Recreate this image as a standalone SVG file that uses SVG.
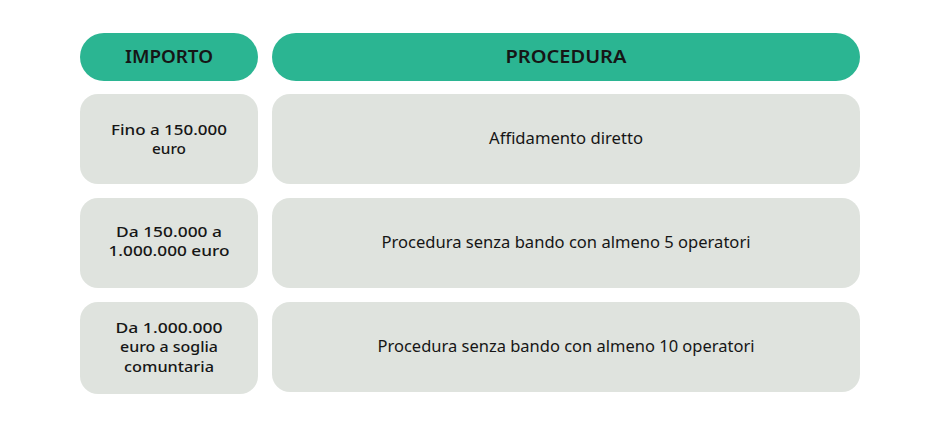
<svg xmlns="http://www.w3.org/2000/svg" width="944" height="436" viewBox="0 0 944 436">
<style>
.hd{fill:#2bb592}
.cell{fill:#dfe3de}
text{font-family:"Noto Sans","Liberation Sans",sans-serif;fill:#161616;text-anchor:middle}
.ht{font-size:18px;font-weight:600}
.lt{font-size:15px;font-weight:500}
.rt{font-size:15.5px;font-weight:400}
</style>
<rect width="944" height="436" fill="#ffffff"/>
<g id="header-importo"><rect class="hd" x="80" y="33" width="178" height="48" rx="24"/><text class="ht" x="169" y="62.5" textLength="88" lengthAdjust="spacingAndGlyphs">IMPORTO</text></g>
<g id="header-procedura"><rect class="hd" x="272" y="33" width="588" height="48" rx="24"/><text class="ht" x="566" y="62.5" textLength="121" lengthAdjust="spacingAndGlyphs">PROCEDURA</text></g>
<g id="row1-importo"><rect class="cell" x="80" y="94" width="178" height="90" rx="18"/><text class="lt" x="169" y="134.5" textLength="116" lengthAdjust="spacingAndGlyphs">Fino a 150.000</text><text class="lt" x="169" y="153.5" textLength="34" lengthAdjust="spacingAndGlyphs">euro</text></g>
<g id="row1-procedura"><rect class="cell" x="272" y="94" width="588" height="90" rx="18"/><text class="rt" x="566" y="144" textLength="154" lengthAdjust="spacingAndGlyphs">Affidamento diretto</text></g>
<g id="row2-importo"><rect class="cell" x="80" y="198" width="178" height="90" rx="18"/><text class="lt" x="169" y="237" textLength="106" lengthAdjust="spacingAndGlyphs">Da 150.000 a</text><text class="lt" x="169" y="256" textLength="121" lengthAdjust="spacingAndGlyphs">1.000.000 euro</text></g>
<g id="row2-procedura"><rect class="cell" x="272" y="198" width="588" height="90" rx="18"/><text class="rt" x="566" y="248" textLength="369" lengthAdjust="spacingAndGlyphs">Procedura senza bando con almeno 5 operatori</text></g>
<g id="row3-importo"><rect class="cell" x="80" y="302" width="178" height="92" rx="18"/><text class="lt" x="169" y="333" textLength="107" lengthAdjust="spacingAndGlyphs">Da 1.000.000</text><text class="lt" x="169" y="352" textLength="98" lengthAdjust="spacingAndGlyphs">euro a soglia</text><text class="lt" x="169" y="371.5" textLength="90" lengthAdjust="spacingAndGlyphs">comuntaria</text></g>
<g id="row3-procedura"><rect class="cell" x="272" y="302" width="588" height="90" rx="18"/><text class="rt" x="566" y="352" textLength="377" lengthAdjust="spacingAndGlyphs">Procedura senza bando con almeno 10 operatori</text></g>
<g id="connectors"/>
</svg>
